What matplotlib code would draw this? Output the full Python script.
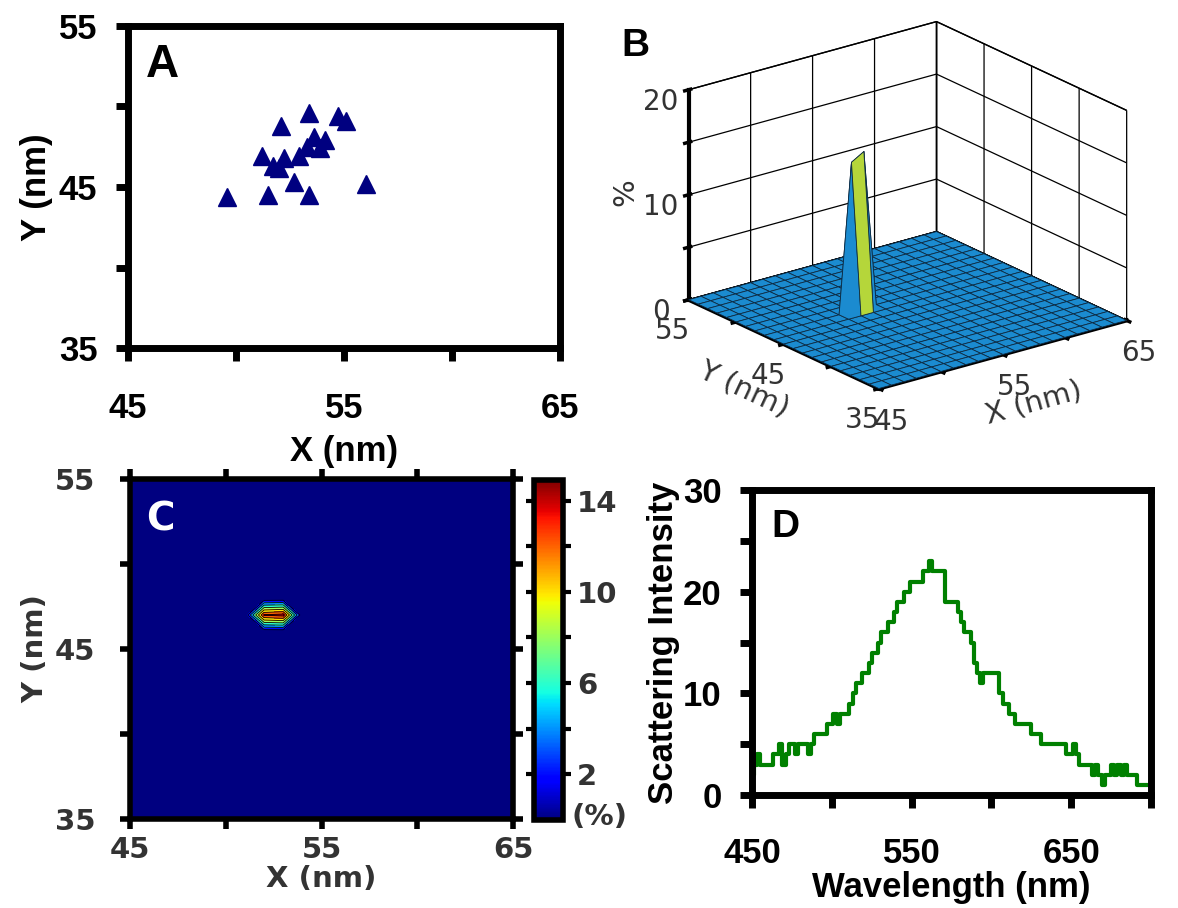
import numpy as np
import matplotlib
matplotlib.use('Agg')
import matplotlib.pyplot as plt
from matplotlib.colors import ListedColormap, BoundaryNorm, Normalize
from matplotlib import cm

plt.rcParams['font.family'] = ['Liberation Sans', 'DejaVu Sans']
plt.rcParams['font.weight'] = 'bold'
plt.rcParams['axes.labelweight'] = 'bold'

# A: localisation positions (nm)
loc_x = [49.6, 51.5, 52.1, 53.4, 54.7, 55.1, 53.6, 54.1, 53.3,
         53.9, 51.2, 52.2, 52.9, 51.7, 52.0, 52.7, 53.4, 56.0]
loc_y = [44.4, 44.5, 48.8, 49.6, 49.4, 49.1, 48.1, 47.9, 47.5,
         47.4, 46.9, 46.8, 46.9, 46.3, 46.2, 45.3, 44.5, 45.2]

# B/C: 2D histogram of the positions (%)
grid_x = np.arange(45, 66, 1)
grid_y = np.arange(35, 56, 1)
peak_x = [52, 53]
peak_y = [47, 47]
peak_pct = [14.2, 14.9]

# D: scattering spectrum
wavelength = np.arange(450, 701, 2)
intensity = [2, 3, 4, 3, 3, 3, 3, 4, 4, 5,
             3, 4, 5, 5, 4, 5, 5, 5, 4, 5,
             6, 6, 6, 6, 7, 7, 8, 7, 8, 8,
             8, 9, 10, 11, 11, 12, 12, 13, 14, 14,
             15, 16, 16, 17, 17, 18, 19, 19, 20, 20,
             21, 21, 21, 21, 22, 22, 23, 22, 22, 22,
             22, 19, 19, 19, 19, 18, 17, 16, 16, 15,
             13, 12, 11, 12, 12, 12, 12, 12, 10, 9,
             9, 8, 8, 7, 7, 7, 7, 7, 6, 6,
             6, 5, 5, 5, 5, 5, 5, 5, 5, 4,
             4, 5, 4, 3, 3, 3, 3, 2, 3, 2,
             1, 2, 2, 3, 2, 3, 2, 3, 2, 2,
             2, 1, 1, 1, 1, 1]

Z = np.zeros((len(grid_y), len(grid_x)))
for px, py, v in zip(peak_x, peak_y, peak_pct):
    Z[py - grid_y[0], px - grid_x[0]] = v
X, Y = np.meshgrid(grid_x, grid_y)

W, H = 1178, 908
fig = plt.figure(figsize=(W / 100, H / 100), dpi=100)


def box(l, t, r, b):
    return [l / W, 1 - b / H, (r - l) / W, (b - t) / H]


def style2d(ax, lw=5, tl=9, size=25, color='k', allsides=False):
    for s in ax.spines.values():
        s.set_linewidth(lw)
        s.set_color('k')
    ax.tick_params(which='both', direction='out', length=tl, width=lw,
                   labelsize=size, labelcolor=color,
                   top=allsides, right=allsides)


# ---- A
axA = fig.add_axes(box(128, 26, 560, 348))
axA.plot(loc_x, loc_y, '^', color='#000080', ms=13, mec='#000080')
axA.set_xlim(45, 65)
axA.set_ylim(35, 55)
axA.set_xticks([45, 50, 55, 60, 65], ['45', '', '55', '', '65'])
axA.set_yticks([35, 40, 45, 50, 55], ['35', '', '45', '', '55'])
style2d(axA)
axA.tick_params(axis='x', pad=23)
axA.tick_params(axis='y', pad=13)
axA.set_xlabel('X (nm)', fontsize=25, labelpad=7)
axA.set_ylabel('Y (nm)', fontsize=25, labelpad=4)
axA.text(0.08, 0.88, 'A', transform=axA.transAxes, fontsize=33,
         ha='center', va='center')

# ---- B
axB = fig.add_axes([0.53, 0.502, 0.47, 0.53], projection='3d')
axB.set_proj_type('ortho')
axB.view_init(elev=21, azim=-127.5)
axB.set_box_aspect((1, 1, 0.72))
cell = (Z[:-1, :-1] + Z[1:, :-1] + Z[:-1, 1:] + Z[1:, 1:]) / 4
cell = np.pad(cell, ((0, 1), (0, 1)))
face_cmap = ListedColormap(['#1b8bd0', '#b5d63a'])
face_norm = BoundaryNorm([0, 5, 20], 2)
axB.plot_surface(X, Y, Z, facecolors=face_cmap(face_norm(cell)),
                 edgecolor='#0c2a42', linewidth=0.6, shade=False,
                 rstride=1, cstride=1)
axB.set_xlim(45, 65)
axB.set_ylim(35, 55)
axB.set_zlim(0, 20)
tkw = dict(fontsize=20, fontweight='normal', color='#333333',
           family='DejaVu Sans')
axB.set_xticks([45, 50, 55, 60, 65], ['45', '', '55', '', '65'], **tkw)
axB.set_yticks([35, 40, 45, 50, 55], ['35', '', '45', '', '55'], **tkw)
axB.set_zticks([0, 5, 10, 15, 20], ['0', '', '10', '', '20'], **tkw)
axB.tick_params(color='k', width=2)
for axis in (axB.xaxis, axB.yaxis, axB.zaxis):
    axis.set_pane_color((1, 1, 1, 1))
    axis.pane.set_edgecolor('k')
    axis._axinfo['grid'].update(color='k', linewidth=0.9)
    axis._axinfo['axisline']['linewidth'] = 3
    axis._axinfo['axisline']['color'] = 'k'
    axis._axinfo['tick']['linewidth'] = {True: 2.5, False: 1.5}
    axis.line.set_linewidth(3)
    axis.line.set_color('k')
lkw = dict(fontsize=21, fontweight='normal', color='#333333',
           family='DejaVu Sans')
axB.set_xlabel('X (nm)', labelpad=8, **lkw)
axB.set_ylabel('Y (nm)', labelpad=8, **lkw)
axB.zaxis.set_rotate_label(False)
axB.set_zlabel('%', rotation=90, labelpad=5, **lkw)
fig.text(635 / W, 1 - 46 / H, 'B', fontsize=28, ha='center', va='center')

# ---- C
axC = fig.add_axes(box(130, 479, 513, 819))
levels = [0, 2, 4, 6, 8, 10, 12, 14, 16]
norm_c = Normalize(0, 14.9)
band_colors = [plt.cm.jet(norm_c(lv)) for lv in levels[:-1]]
axC.contourf(X, Y, Z, levels=levels, colors=band_colors)
axC.contour(X, Y, Z, levels=levels[1:-1], colors='k', linewidths=0.6)
axC.set_xlim(45, 65)
axC.set_ylim(35, 55)
axC.set_xticks([45, 50, 55, 60, 65], ['45', '', '55', '', '65'])
axC.set_yticks([35, 40, 45, 50, 55], ['35', '', '45', '', '55'])
style2d(axC, lw=4, tl=7, size=21, color='#333333', allsides=True)
for lbl in axC.get_xticklabels() + axC.get_yticklabels():
    lbl.set_family('DejaVu Sans')
axC.tick_params(axis='x', pad=5)
axC.tick_params(axis='y', pad=18)
ckw = dict(fontsize=21, color='#333333', family='DejaVu Sans')
axC.set_xlabel('X (nm)', labelpad=1, **ckw)
axC.set_ylabel('Y (nm)', labelpad=4, **ckw)
axC.text(0.08, 0.88, 'C', transform=axC.transAxes, fontsize=28,
         color='white', family='DejaVu Sans', ha='center', va='center')

cax = fig.add_axes(box(534, 480, 563, 820))
sm = cm.ScalarMappable(norm=norm_c, cmap='jet')
cb = fig.colorbar(sm, cax=cax, ticks=[2, 4, 6, 8, 10, 12, 14])
cb.ax.set_yticklabels(['2', '', '6', '', '10', '', '14'])
cb.outline.set_linewidth(4)
cb.ax.tick_params(which='both', left=True, right=True, direction='out',
                  length=6, width=3, labelsize=21, labelcolor='#333333',
                  pad=4)
for lbl in cb.ax.get_yticklabels():
    lbl.set_family('DejaVu Sans')
fig.text(600 / W, 1 - 817 / H, '(%)', ha='center', va='center',
         fontweight='bold', **ckw)

# ---- D
axD = fig.add_axes(box(752, 490, 1151, 795))
axD.plot(wavelength, intensity, color='#008000', lw=3, drawstyle='steps-mid')
axD.set_xlim(450, 700)
axD.set_ylim(0, 30)
axD.set_xticks([450, 500, 550, 600, 650, 700],
               ['450', '', '550', '', '650', ''])
axD.set_yticks([0, 5, 10, 15, 20, 25, 30],
               ['0', '', '10', '', '20', '', '30'])
style2d(axD)
axD.tick_params(axis='x', pad=21)
axD.tick_params(axis='y', pad=13)
axD.set_xlabel('Wavelength (nm)', fontsize=25, labelpad=1)
axD.set_ylabel('Scattering Intensity', fontsize=25, labelpad=2)
axD.text(0.085, 0.88, 'D', transform=axD.transAxes, fontsize=28,
         ha='center', va='center')

fig.savefig('out.png', dpi=100)
